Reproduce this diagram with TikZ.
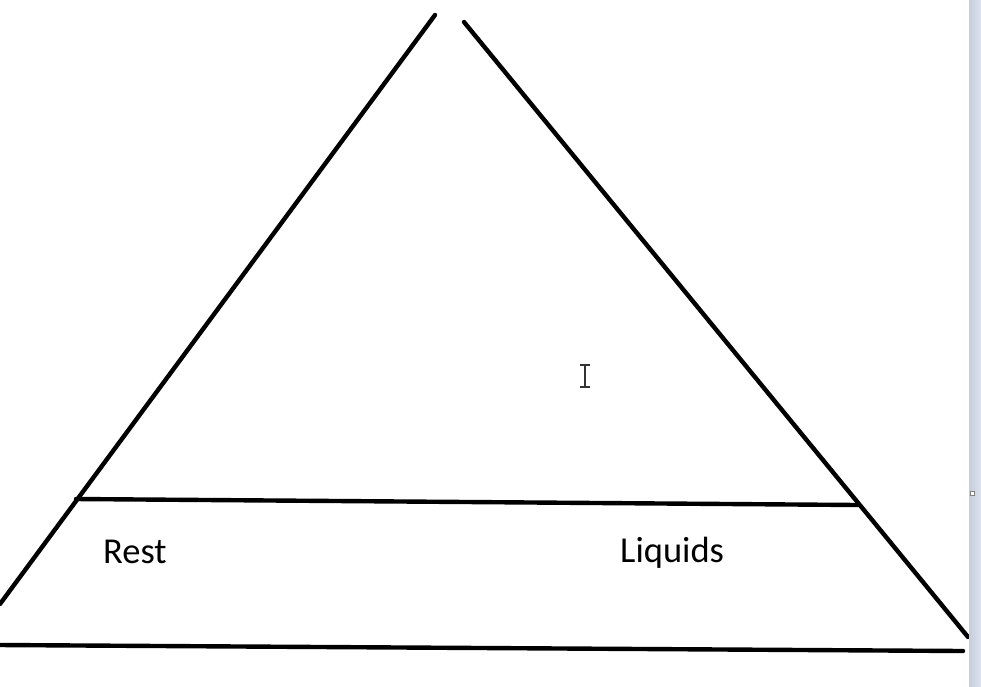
\documentclass[tikz,border=0pt]{standalone}
\usepackage{fontspec}
\setmainfont{Carlito}
\definecolor{barleft}{RGB}{196,205,220}
\definecolor{barright}{RGB}{222,228,238}
\begin{document}
\begin{tikzpicture}[x=1pt, y=-1pt, line cap=round]
            \useasboundingbox (0,0) rectangle (981,686);
            \coordinate (topl) at (435,15);
            \coordinate (topr) at (464,22);
            \coordinate (botl) at (0,604);
            \coordinate (botr) at (968,637);
            \coordinate (midl) at (76,499);
            \coordinate (midr) at (858,505);
            \draw[line width=4.4pt] (topl) -- (botl);
            \draw[line width=4.4pt] (topr) -- (botr);
            \draw[line width=4.4pt] (midl) -- (midr);
            \draw[line width=4.4pt] (0,645) -- (963,651);
            \node[font=\fontsize{36.5}{42}\selectfont, anchor=base west, inner sep=0pt] (rest) at (103,563) {Rest};
            \node[font=\fontsize{36.5}{42}\selectfont, anchor=base west, inner sep=0pt] (liquids) at (620,562) {Liquids};
            % text cursor
            \draw[line width=1.2pt, black!80, line cap=butt] (585,365) -- (585,387)
                (580,365) -- (590,365) (580,387) -- (590,387);
            % scroll bar at the right edge
            \shade[left color=barleft, right color=barright] (969,0) rectangle (981,686);
            \draw[gray, fill=white, line width=0.6pt] (970,491) rectangle (974,495);
        \end{tikzpicture}
\end{document}
